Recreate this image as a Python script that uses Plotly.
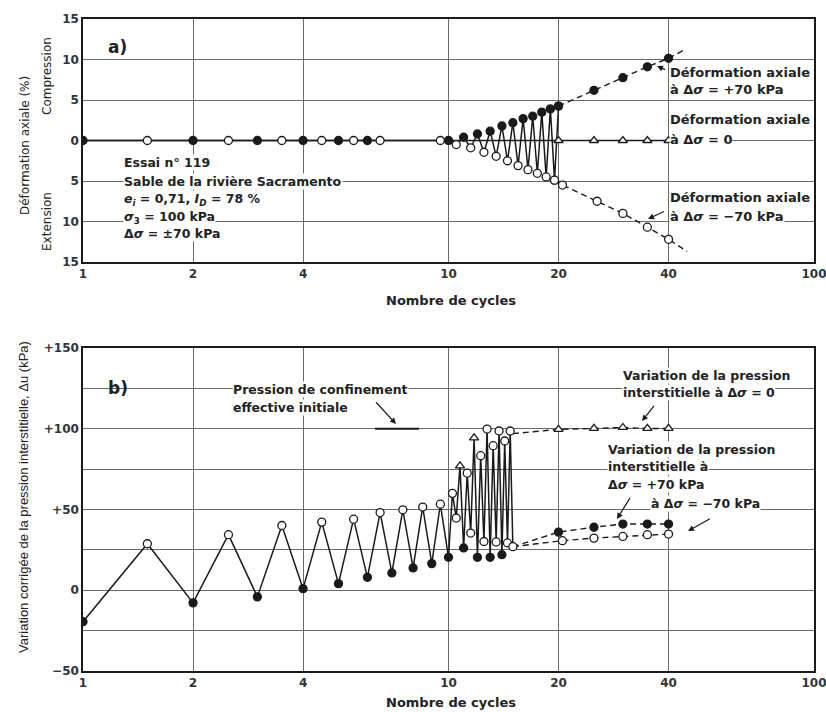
import plotly.graph_objects as go

# ---------------- data : panel a) axial strain (%) ----------------
a_cyc_N = [1, 1.5, 2, 2.5, 3, 3.5, 4, 4.5, 5, 5.5, 6, 6.5,
           9.5, 10, 10.5, 11, 11.5, 12, 12.5, 13, 13.5, 14, 14.5, 15,
           15.5, 16, 16.5, 17, 17.5, 18, 18.5, 19, 19.5, 20]
a_cyc_eps = [0, 0, 0, 0, 0, 0, 0, 0, 0, 0, 0, 0,
             0, 0, -0.5, 0.4, -0.9, 0.8, -1.45, 1.15, -1.95, 1.8, -2.5, 2.2,
             -3.1, 2.7, -3.6, 3.0, -4.05, 3.5, -4.5, 3.9, -4.9, 4.25]
a_cyc_type = ['c', 'e', 'c', 'e', 'c', 'e', 'c', 'e', 'c', 'e', 'c', 'e',
              'e', 'c', 'e', 'c', 'e', 'c', 'e', 'c', 'e', 'c', 'e', 'c',
              'e', 'c', 'e', 'c', 'e', 'c', 'e', 'c', 'e', 'c']
a_zero_N = [1, 20, 25, 30, 35, 40]
a_zero_eps = [0, 0, 0, 0, 0, 0]
a_plus_N = [20, 25, 30, 35, 40, 44.6]
a_plus_eps = [4.25, 6.2, 7.75, 9.1, 10.15, 11.3]
a_minus_N = [19.5, 20.5, 25.5, 30, 35, 40, 45]
a_minus_eps = [-4.9, -5.5, -7.5, -9.0, -10.7, -12.2, -13.7]
a_yticks = [-15, -10, -5, 0, 5, 10, 15]
a_yticktext = ['15', '10', '5', '0', '5', '10', '15']

# ---------------- data : panel b) pore pressure (kPa) ----------------
b_cyc_N = [1, 1.5, 2, 2.5, 3, 3.5, 4, 4.5, 5, 5.5, 6, 6.5, 7, 7.5, 8, 8.5, 9, 9.5,
           10, 10.25, 10.5, 10.75, 11, 11.25, 11.5, 11.75, 12, 12.25, 12.5, 12.75,
           13, 13.25, 13.5, 13.75, 14, 14.25, 14.5, 14.75, 15]
b_cyc_u = [-19.5, 28.8, -7.8, 34.4, -4.1, 40.1, 1.0, 42.2, 4.1, 44.0, 8.0, 48.1,
           10.7, 49.8, 13.8, 51.5, 16.5, 53.3,
           20.4, 60.0, 44.7, 77.0, 26.2, 72.5, 35.4, 94.4, 20.4, 83.3, 30.2, 99.8,
           20.4, 89.5, 29.9, 98.6, 22.0, 92.4, 29.3, 98.6, 27.0]
b_cyc_type = ['c', 'e', 'c', 'e', 'c', 'e', 'c', 'e', 'c', 'e', 'c', 'e', 'c', 'e', 'c', 'e', 'c', 'e',
              'c', 'z', 'e', 't', 'c', 'z', 'e', 't', 'c', 'z', 'e', 'z',
              'c', 'z', 'e', 'z', 'c', 'z', 'e', 'z', 'e']
b_zero_N = [15, 20, 25, 30, 35, 40]
b_zero_u = [97, 99.6, 100.2, 100.8, 100.2, 100.2]
b_plus_N = [15, 20, 25, 30, 35, 40]
b_plus_u = [27, 36, 39, 41, 41, 41]
b_minus_N = [15, 20.5, 25, 30, 35, 40]
b_minus_u = [27, 30.7, 32.3, 33.3, 34.4, 34.8]
conf_N = [6.3, 8.3]
conf_u = [100, 100]
b_yticks = [-50, -25, 0, 25, 50, 75, 100, 125, 150]
b_yticktext = ['\u221250', ' ', '0', ' ', '+50', ' ', '+100', ' ', '+150']

x_ticks = [1, 2, 4, 10, 20, 40, 100]
x_ticktext = ['1', '2', '4', '10', '20', '40', '100']

# ---------------- styles ----------------
INK = '#1a1a1a'
GRID = '#6a6a6a'
W, H = 826, 712
FONT = 'DejaVu Sans'

def mk_color(t):
    return INK if t == 'c' else 'white'

def mk_symbol(t):
    return 'triangle-up' if t == 't' else 'circle'

fig = go.Figure()

# ---- panel a ----
fig.add_trace(go.Scatter(x=a_zero_N, y=a_zero_eps, mode='lines',
                         line=dict(color=INK, width=1.6), xaxis='x', yaxis='y', hoverinfo='skip'))
fig.add_trace(go.Scatter(x=a_cyc_N, y=a_cyc_eps, mode='lines',
                         line=dict(color=INK, width=1.5), xaxis='x', yaxis='y'))
fig.add_trace(go.Scatter(x=a_plus_N, y=a_plus_eps, mode='lines',
                         line=dict(color=INK, width=1.4, dash='6px,4px'), xaxis='x', yaxis='y'))
fig.add_trace(go.Scatter(x=a_minus_N, y=a_minus_eps, mode='lines',
                         line=dict(color=INK, width=1.4, dash='6px,4px'), xaxis='x', yaxis='y'))
fig.add_trace(go.Scatter(x=a_cyc_N, y=a_cyc_eps, mode='markers',
                         marker=dict(size=8, color=[mk_color(t) for t in a_cyc_type],
                                     symbol=[mk_symbol(t) for t in a_cyc_type],
                                     line=dict(color=INK, width=1.3)), xaxis='x', yaxis='y'))
fig.add_trace(go.Scatter(x=a_zero_N[1:], y=a_zero_eps[1:], mode='markers',
                         marker=dict(size=8, color='white', symbol='triangle-up',
                                     line=dict(color=INK, width=1.3)), xaxis='x', yaxis='y'))
fig.add_trace(go.Scatter(x=a_plus_N[:-1], y=a_plus_eps[:-1], mode='markers',
                         marker=dict(size=8, color=INK, line=dict(color=INK, width=1.3)),
                         xaxis='x', yaxis='y'))
fig.add_trace(go.Scatter(x=a_minus_N[:-1], y=a_minus_eps[:-1], mode='markers',
                         marker=dict(size=8, color='white', line=dict(color=INK, width=1.3)),
                         xaxis='x', yaxis='y'))

# ---- panel b ----
fig.add_trace(go.Scatter(x=conf_N, y=conf_u, mode='lines',
                         line=dict(color=INK, width=2.2), xaxis='x2', yaxis='y2'))
fig.add_trace(go.Scatter(x=b_cyc_N, y=b_cyc_u, mode='lines',
                         line=dict(color=INK, width=1.5), xaxis='x2', yaxis='y2'))
for xs, ys in ((b_zero_N, b_zero_u), (b_plus_N, b_plus_u), (b_minus_N, b_minus_u)):
    fig.add_trace(go.Scatter(x=xs, y=ys, mode='lines',
                             line=dict(color=INK, width=1.4, dash='6px,4px'),
                             xaxis='x2', yaxis='y2'))
fig.add_trace(go.Scatter(x=b_cyc_N, y=b_cyc_u, mode='markers',
                         marker=dict(size=8, color=[mk_color(t) for t in b_cyc_type],
                                     symbol=[mk_symbol(t) for t in b_cyc_type],
                                     line=dict(color=INK, width=1.3)), xaxis='x2', yaxis='y2'))
fig.add_trace(go.Scatter(x=b_zero_N[1:], y=b_zero_u[1:], mode='markers',
                         marker=dict(size=8, color='white', symbol='triangle-up',
                                     line=dict(color=INK, width=1.3)), xaxis='x2', yaxis='y2'))
fig.add_trace(go.Scatter(x=b_plus_N[1:], y=b_plus_u[1:], mode='markers',
                         marker=dict(size=8, color=INK, line=dict(color=INK, width=1.3)),
                         xaxis='x2', yaxis='y2'))
fig.add_trace(go.Scatter(x=b_minus_N[1:], y=b_minus_u[1:], mode='markers',
                         marker=dict(size=8, color='white', line=dict(color=INK, width=1.3)),
                         xaxis='x2', yaxis='y2'))

# ---------------- axes ----------------
XD = [83 / W, 814 / W]
common_x = dict(type='log', range=[0, 2], domain=XD, tickvals=x_ticks, ticktext=x_ticktext,
                showgrid=True, gridcolor=GRID, gridwidth=1, showline=True, mirror=True,
                linecolor=INK, linewidth=1.5, ticks='', zeroline=False, automargin=False,
                ticklabeloverflow='allow',
                tickfont=dict(family=FONT, size=12, color='#333', weight='bold'))
common_y = dict(showgrid=True, gridcolor=GRID, gridwidth=1, showline=True, mirror=True,
                linecolor=INK, linewidth=1.5, ticks='', zeroline=False, automargin=False,
                tickfont=dict(family=FONT, size=12, color='#333', weight='bold'))

fig.update_layout(
    width=W, height=H, autosize=False, margin=dict(l=0, r=0, t=0, b=0),
    paper_bgcolor='white', plot_bgcolor='white', showlegend=False,
    xaxis=dict(anchor='y', **common_x),
    yaxis=dict(anchor='x', range=[-15, 15], domain=[1 - 262 / H, 1 - 19 / H],
               tickvals=a_yticks, ticktext=a_yticktext, **common_y),
    xaxis2=dict(anchor='y2', **common_x),
    yaxis2=dict(anchor='x2', range=[-50, 150], domain=[1 - 671 / H, 1 - 348 / H],
                tickvals=b_yticks, ticktext=b_yticktext, **common_y),
)

# ---------------- annotations ----------------
def txt(xp, yp, text, size=12.5, bold=True, bg='white', xanchor='left', angle=0, fam=FONT):
    fig.add_annotation(x=xp / W, y=1 - yp / H, xref='paper', yref='paper', text=text,
                       showarrow=False, xanchor=xanchor, yanchor='middle', textangle=angle,
                       bgcolor=bg, borderpad=0,
                       font=dict(family=fam, size=size, color='#222',
                                 weight='bold' if bold else 'normal'))

def arrow(x0, y0, x1, y1):
    fig.add_annotation(x=x1 / W, y=1 - y1 / H, xref='paper', yref='paper',
                       ax=x0 - x1, ay=y0 - y1, axref='pixel', ayref='pixel', text=' ',
                       showarrow=True, arrowhead=2, arrowsize=1, arrowwidth=1.2,
                       arrowcolor=INK)

# panel labels
txt(107, 47, 'a)', size=17, bg=None)
txt(107, 388, 'b)', size=17, bg=None)

# panel a text block
txt(123, 163, 'Essai n° 119')
txt(123, 181, 'Sable de la rivière Sacramento')
txt(123, 199, '<i>e<sub>i</sub></i> = 0,71, <i>I<sub>D</sub></i> = 78 %')
txt(123, 217, '<i>σ</i><sub>3</sub> = 100 kPa')
txt(123, 234, 'Δ<i>σ</i> = ±70 kPa')

txt(669, 72, 'Déformation axiale', size=13)
txt(669, 89, 'à Δ<i>σ</i> = +70 kPa', size=13)
txt(669, 120, 'Déformation axiale', size=13)
txt(669, 139, 'à Δ<i>σ</i> = 0', size=13)
txt(669, 197, 'Déformation axiale', size=13)
txt(669, 216, 'à Δ<i>σ</i> = −70 kPa', size=13)
arrow(668, 71, 657, 66)
arrow(667, 210, 648, 219)

# panel b text
txt(232, 390, 'Pression de confinement')
txt(232, 407, 'effective initiale')
arrow(373, 399, 396, 424)
txt(622, 375, 'Variation de la pression')
txt(622, 392, 'interstitielle à Δ<i>σ</i> = 0')
arrow(657, 402, 642, 421)
txt(607, 449, 'Variation de la pression')
txt(607, 466, 'interstitielle à')
txt(607, 484, 'Δ<i>σ</i> = +70 kPa')
txt(650, 503, 'à Δ<i>σ</i> = −70 kPa')
arrow(633, 493, 617, 519)
arrow(713, 517, 688, 531)

# axis titles
txt(451, 301, 'Nombre de cycles', size=13, bg=None, xanchor='center')
txt(451, 702, 'Nombre de cycles', size=13, bg=None, xanchor='center')
txt(25, 146, 'Déformation axiale (%)', size=12, bold=False, bg=None, xanchor='center', angle=-90)
txt(47, 76, 'Compression', size=12, bold=False, bg=None, xanchor='center', angle=-90)
txt(47, 222, 'Extension', size=12, bold=False, bg=None, xanchor='center', angle=-90)
txt(24, 497, 'Variation corrigée de la pression interstitielle, Δu (kPa)', size=13,
    bold=False, bg=None, xanchor='center', angle=-90, fam='Liberation Sans')

fig.write_html('out.html')
